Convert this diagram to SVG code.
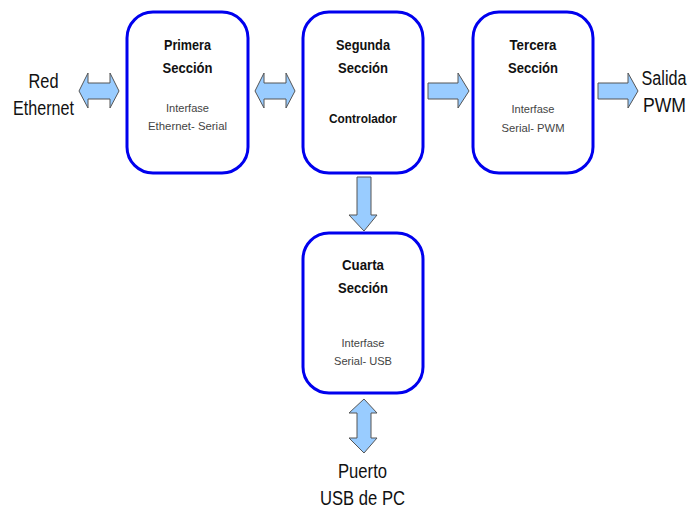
<svg xmlns="http://www.w3.org/2000/svg" width="689" height="510" viewBox="0 0 689 510">
<style>
.box{fill:#fff;stroke:#0000ee;stroke-width:3}
.arr{fill:#99ccff;stroke:#555;stroke-width:1;stroke-linejoin:miter}
.t{font-family:"Liberation Sans",Arial,sans-serif;font-weight:bold;font-size:14px;fill:#111;text-anchor:middle}
.s{font-family:"Liberation Sans",Arial,sans-serif;font-size:11.5px;fill:#444;text-anchor:middle}
.c{font-family:"Liberation Sans",Arial,sans-serif;font-weight:bold;font-size:12px;fill:#111;text-anchor:middle}
.l{font-family:"Liberation Sans",Arial,sans-serif;font-size:19.5px;fill:#111;text-anchor:middle}
</style>
<rect width="689" height="510" fill="#fff"/>
<g id="connectors">
<path class="arr" d="M79,91 L88,73 L88,83 L110,83 L110,73 L119,91 L110,108 L110,99 L88,99 L88,108 Z"/>
<path class="arr" d="M255,91 L264,73 L264,83 L286,83 L286,73 L295,91 L286,108 L286,99 L264,99 L264,108 Z"/>
<path class="arr" d="M428,83 L458,83 L458,73 L469,91 L458,108 L458,99 L428,99 Z"/>
<path class="arr" d="M598,83 L628,83 L628,73 L638,91 L628,108 L628,99 L598,99 Z"/>
<path class="arr" d="M357,177 L371,177 L371,215 L377,215 L364,231 L349,215 L357,215 Z"/>
<path class="arr" d="M364,399 L377,413 L371,413 L371,438 L377,438 L364,453 L349,438 L357,438 L357,413 L349,413 Z"/>
</g>
<g id="primera">
<rect class="box" x="127" y="12" width="121" height="161" rx="26"/>
<text class="t" x="187.5" y="50" textLength="47" lengthAdjust="spacingAndGlyphs">Primera</text>
<text class="t" x="187.5" y="73" textLength="50" lengthAdjust="spacingAndGlyphs">Sección</text>
<text class="s" x="187.5" y="112" textLength="43" lengthAdjust="spacingAndGlyphs">Interfase</text>
<text class="s" x="187.5" y="130" textLength="79" lengthAdjust="spacingAndGlyphs">Ethernet- Serial</text>
</g>
<g id="segunda">
<rect class="box" x="303" y="12" width="120" height="161" rx="26"/>
<text class="t" x="363" y="50" textLength="54" lengthAdjust="spacingAndGlyphs">Segunda</text>
<text class="t" x="363" y="73" textLength="50" lengthAdjust="spacingAndGlyphs">Sección</text>
<text class="c" x="363" y="123" textLength="68" lengthAdjust="spacingAndGlyphs">Controlador</text>
</g>
<g id="tercera">
<rect class="box" x="473" y="12" width="120" height="161" rx="26"/>
<text class="t" x="533" y="50" textLength="47" lengthAdjust="spacingAndGlyphs">Tercera</text>
<text class="t" x="533" y="73" textLength="50" lengthAdjust="spacingAndGlyphs">Sección</text>
<text class="s" x="533" y="113" textLength="43" lengthAdjust="spacingAndGlyphs">Interfase</text>
<text class="s" x="533" y="132" textLength="63" lengthAdjust="spacingAndGlyphs">Serial- PWM</text>
</g>
<g id="cuarta">
<rect class="box" x="303" y="233" width="120" height="160" rx="26"/>
<text class="t" x="363" y="270" textLength="42" lengthAdjust="spacingAndGlyphs">Cuarta</text>
<text class="t" x="363" y="293" textLength="50" lengthAdjust="spacingAndGlyphs">Sección</text>
<text class="s" x="363" y="347" textLength="43" lengthAdjust="spacingAndGlyphs">Interfase</text>
<text class="s" x="363" y="365" textLength="58" lengthAdjust="spacingAndGlyphs">Serial- USB</text>
</g>
<g id="red-ethernet">
<text class="l" x="43.5" y="88" textLength="30" lengthAdjust="spacingAndGlyphs">Red</text>
<text class="l" x="43.5" y="115" textLength="61" lengthAdjust="spacingAndGlyphs">Ethernet</text>
</g>
<g id="salida-pwm">
<text class="l" x="664" y="85" textLength="45" lengthAdjust="spacingAndGlyphs">Salida</text>
<text class="l" x="664.5" y="112" textLength="43" lengthAdjust="spacingAndGlyphs">PWM</text>
</g>
<g id="puerto-usb">
<text class="l" x="362.5" y="478" textLength="49" lengthAdjust="spacingAndGlyphs">Puerto</text>
<text class="l" x="362.5" y="505" textLength="85" lengthAdjust="spacingAndGlyphs">USB de PC</text>
</g>
</svg>
